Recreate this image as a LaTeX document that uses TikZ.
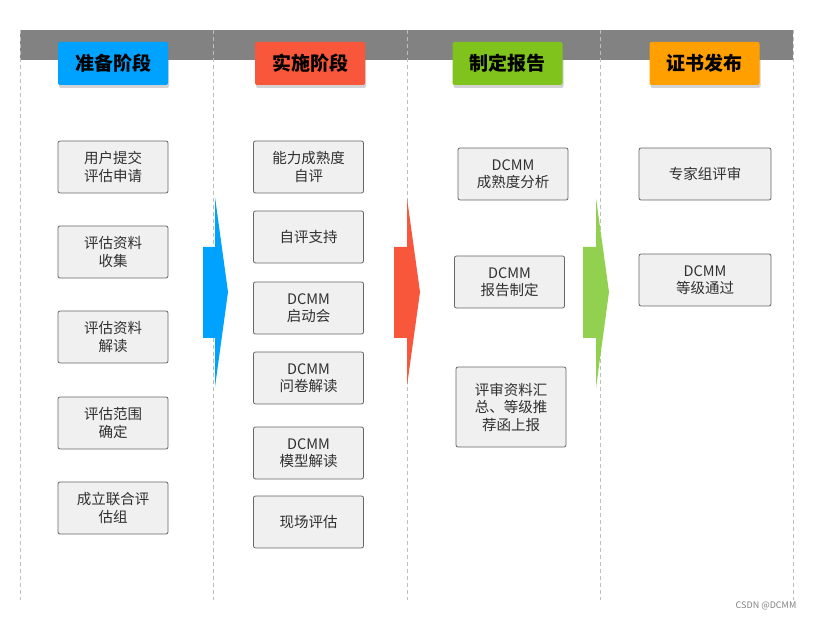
\documentclass[tikz,border=0pt]{standalone}
\usepackage{fontspec}
\setmainfont{Noto Sans CJK SC}
\usepackage{xcolor}
\usepackage{tikz}
\usetikzlibrary{shadows}

\definecolor{barGray}{HTML}{828282}
\definecolor{gridGray}{HTML}{BDBDBD}
\definecolor{boxFill}{HTML}{F0F0F0}
\definecolor{boxLine}{HTML}{666666}
\definecolor{boxText}{HTML}{303030}
\definecolor{prepBlue}{HTML}{00A2FF}
\definecolor{implRed}{HTML}{F9573B}
\definecolor{reportGreen}{HTML}{80C31C}
\definecolor{arrowGreen}{HTML}{92D050}
\definecolor{certOrange}{HTML}{FFA000}

\begin{document}
\begin{tikzpicture}[x=1pt, y=-1pt,
    stage/.style={minimum width=110pt, minimum height=43pt, rounded corners=2pt,
        font=\fontsize{19}{21}\selectfont\bfseries,
        drop shadow={shadow xshift=1pt, shadow yshift=-3pt, opacity=0.35}},
    task/.style={draw=boxLine, fill=boxFill, rounded corners=2pt, line width=0.8pt,
        minimum width=110pt, minimum height=52pt, align=center, text=boxText,
        font=\fontsize{14.5}{17.5}\selectfont}]
    \useasboundingbox (0,0) rectangle (814,620);

    % top bar and column lines
    \fill[barGray] (20,30) rectangle (793,60);
    \foreach \x in {20, 213, 407, 600, 793}
        \draw[gridGray, dash pattern=on 4pt off 3pt, line width=0.7pt] (\x,30) -- (\x,600);

    % stage arrows
    \fill[prepBlue] (203,247) -- (215,247) -- (215,197) -- (228,292) -- (215,387) -- (215,338) -- (203,338) -- cycle;
    \fill[implRed] (394,247) -- (407,247) -- (407,198) -- (420,292) -- (407,386) -- (407,338) -- (394,338) -- cycle;
    \fill[arrowGreen] (583,247) -- (596,247) -- (596,198) -- (609,292) -- (596,388) -- (596,338) -- (583,338) -- cycle;

    % headers
    \node[stage, fill=prepBlue] (prep) at (113,63.5) {准备阶段};
    \node[stage, fill=implRed] (impl) at (310,63.5) {实施阶段};
    \node[stage, fill=reportGreen] (report) at (507.5,63.5) {制定报告};
    \node[stage, fill=certOrange] (cert) at (704.5,63.5) {证书发布};

    % preparation
    \node[task] (apply) at (113,167) {用户提交\\评估申请};
    \node[task] (collect) at (113,252) {评估资料\\收集};
    \node[task] (read) at (113,337) {评估资料\\解读};
    \node[task] (scope) at (113,423) {评估范围\\确定};
    \node[task] (team) at (113,508) {成立联合评\\估组};

    % implementation
    \node[task] (self) at (308.5,167) {能力成熟度\\自评};
    \node[task] (support) at (308.5,237) {自评支持};
    \node[task] (kickoff) at (308.5,308) {DCMM\\启动会};
    \node[task] (survey) at (308.5,378) {DCMM\\问卷解读};
    \node[task] (model) at (308.5,453) {DCMM\\模型解读};
    \node[task] (onsite) at (308.5,522) {现场评估};

    % report
    \node[task] (analysis) at (513,174) {DCMM\\成熟度分析};
    \node[task] (draft) at (509.5,282) {DCMM\\报告制定};
    \node[task, minimum height=80pt] (submit) at (511,407) {评审资料汇\\总、等级推\\荐函上报};

    % certificate
    \node[task, minimum width=132pt] (review) at (705,174) {专家组评审};
    \node[task, minimum width=132pt] (pass) at (705,280) {DCMM\\等级通过};

    \node[text=gray, font=\fontsize{9}{10}\selectfont] (mark) at (766,606) {CSDN @DCMM};
\end{tikzpicture}
\end{document}
